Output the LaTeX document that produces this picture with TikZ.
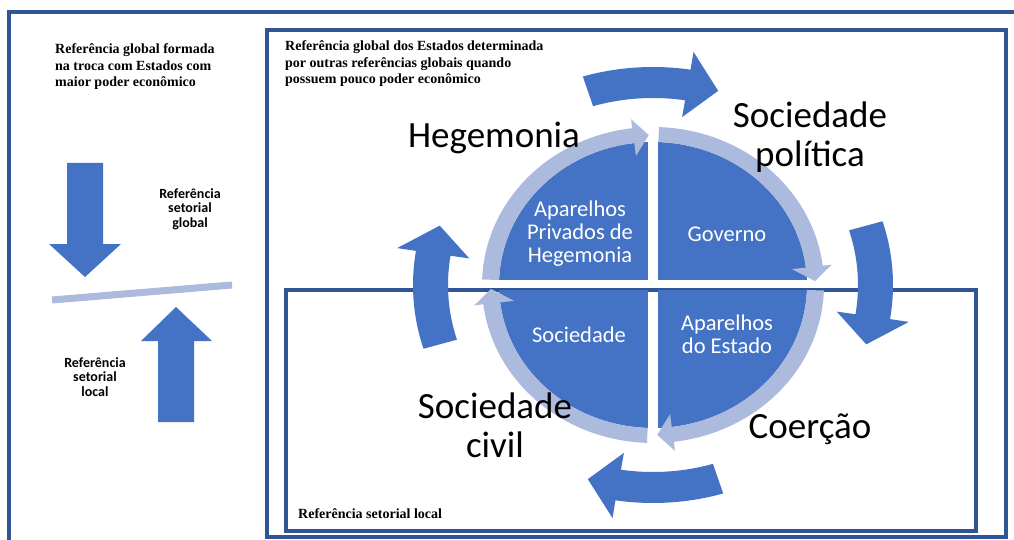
\documentclass[tikz,border=0pt]{standalone}
\usepackage{fontspec}
\setmainfont{Liberation Serif}
\newfontfamily\calib{Carlito}
\definecolor{frameblue}{RGB}{47,85,151}
\definecolor{darkfill}{RGB}{68,114,196}
\definecolor{lightring}{RGB}{172,186,222}
\newcommand\ringarr[3]{%
  \fill[lightring] plot[domain=#1:#2,samples=40] ({171*cos(\x)},{158*sin(\x)})
    -- (#2:180 and 167) -- (#3:162 and 150) -- (#2:140 and 130)
    -- plot[domain=#2:#1,samples=40] ({154*cos(\x)},{143*sin(\x)}) -- cycle;}
\newcommand\bigarr[3]{%
  \fill[darkfill] plot[domain=#1:#2,samples=40] ({240*cos(\x)},{218*sin(\x)})
    -- (#2:259 and 236) -- (#3:223 and 203) -- (#2:186 and 170)
    -- plot[domain=#2:#1,samples=40] ({205*cos(\x)},{187*sin(\x)}) -- cycle;}
\begin{document}
\begin{tikzpicture}[x=1pt,y=-1pt,
  framebox/.style={draw=frameblue,line width=4pt},
  serifnote/.style={font=\fontsize{14}{16.8}\selectfont\bfseries,align=left,anchor=base west,inner sep=0pt},
  sidelabel/.style={font=\calib\fontsize{14}{14.5}\selectfont\bfseries,align=center,anchor=base,inner sep=0pt},
  biglabel/.style={font=\calib\fontsize{37}{39}\selectfont,align=center,anchor=base,inner sep=0pt},
  quadlabel/.style={font=\calib\fontsize{22.5}{23}\selectfont,text=white,align=center,anchor=base,inner sep=0pt}]
\useasboundingbox (0,0) rectangle (1014,540);
\fill[white] (0,0) rectangle (1014,540);
% frames
\draw[framebox] (9,540) -- (9,12) -- (1014,12);
\draw[framebox] (267,30) rectangle (1006,537);
\draw[framebox] (286,290) rectangle (976,531);
% notes (anchor base = last line)
\node[serifnote] (noteA) at (55,87) {Referência global formada\\na troca com Estados com\\maior poder econômico};
\node[serifnote] (noteB) at (285,84) {Referência global dos Estados determinada\\por outras referências globais quando\\possuem pouco poder econômico};
\node[serifnote] (noteC) at (298,518) {Referência setorial local};
% left side
\fill[darkfill] (67,163) -- (103,163) -- (103,244) -- (121,244) -- (85,277) -- (49,244) -- (67,244) -- cycle;
\fill[darkfill] (158,422) -- (194,422) -- (194,341) -- (212,341) -- (176,307) -- (141,341) -- (158,341) -- cycle;
\draw[lightring,line width=7pt] (52,300) -- (232,285);
\node[sidelabel] (refglob) at (190,227) {Referência\\setorial\\global};
\node[sidelabel] (refloc) at (95,396) {Referência\\setorial\\local};
% big arrows
\begin{scope}[shift={(653,285)}]
\bigarr{253}{279}{287}
\bigarr{-17}{9}{17}
\bigarr{73}{99}{107}
\bigarr{163}{189}{197}
\end{scope}
% quadrants
\begin{scope}
\clip (653,285) ellipse [x radius=154pt, y radius=143pt];
\fill[darkfill] (480,110) rectangle (648,280);
\fill[darkfill] (658,110) rectangle (830,280);
\fill[darkfill] (480,290) rectangle (648,460);
\fill[darkfill] (658,290) rectangle (830,460);
\end{scope}
% ring arrows
\begin{scope}[shift={(653,285)}]
\ringarr{182}{263}{268.5}
\ringarr{272}{353}{358.5}
\ringarr{2}{83}{88.5}
\ringarr{92}{173}{178.5}
\end{scope}
% quadrant labels
\node[quadlabel] (qtl) at (580,262) {Aparelhos\\Privados de\\Hegemonia};
\node[quadlabel] (qtr) at (727,241) {Governo};
\node[quadlabel] (qbl) at (579,342) {Sociedade};
\node[quadlabel] (qbr) at (727,353) {Aparelhos\\do Estado};
% big labels
\node[biglabel] (hegemonia) at (494,148) {Hegemonia};
\node[biglabel] (socpol) at (810,167) {Sociedade\\política};
\node[biglabel] (soccivil) at (495,457) {Sociedade\\civil};
\node[biglabel] (coercao) at (810,438) {Coerção};
\end{tikzpicture}
\end{document}
